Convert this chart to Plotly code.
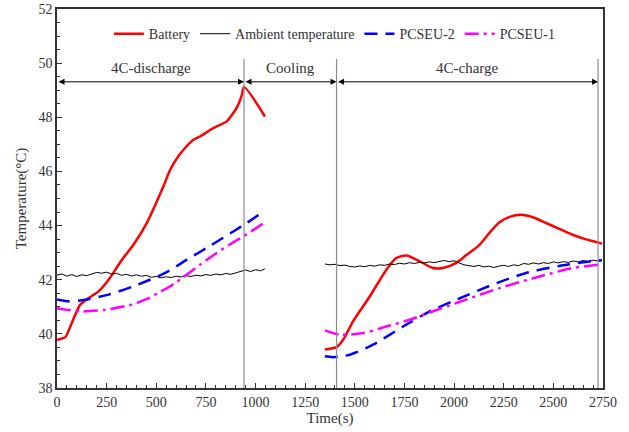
import plotly.graph_objects as go

# ---- Discharge phase (0 - ~1050 s) ----
t_batt_dis = [0, 20, 42, 67, 92, 117, 159, 209, 260, 327, 385, 452, 536, 570, 611,
              653, 687, 720, 787, 855, 888, 910, 930, 942, 1047]
T_batt_dis = [39.78, 39.82, 39.88, 40.27, 40.71, 41.08, 41.32, 41.57, 42.00, 42.74,
              43.29, 44.09, 45.45, 46.06, 46.56, 46.93, 47.17, 47.29, 47.60, 47.85,
              48.16, 48.42, 48.80, 49.12, 48.03]

t_amb_dis = [0, 25, 50, 75, 100, 125, 150, 175, 200, 225, 250, 275, 300, 325, 350,
             375, 400, 425, 450, 475, 500, 525, 550, 575, 600, 625, 650, 675, 700,
             725, 750, 775, 800, 825, 850, 875, 900, 925, 950, 975, 1000, 1025, 1047]
T_amb_dis = [42.17, 42.21, 42.13, 42.19, 42.12, 42.18, 42.15, 42.22, 42.27, 42.24,
             42.28, 42.21, 42.24, 42.16, 42.20, 42.14, 42.18, 42.13, 42.16, 42.09,
             42.12, 42.07, 42.11, 42.08, 42.13, 42.10, 42.15, 42.12, 42.17, 42.14,
             42.19, 42.16, 42.21, 42.18, 42.23, 42.20, 42.26, 42.31, 42.36, 42.30,
             42.37, 42.33, 42.40]

t_p2_dis = [0, 58, 126, 260, 394, 545, 654, 771, 896, 942, 1047]
T_p2_dis = [41.27, 41.20, 41.24, 41.45, 41.78, 42.25, 42.74, 43.25, 43.82, 44.03, 44.55]

t_p1_dis = [0, 60, 126, 243, 377, 450, 520, 590, 637, 720, 804, 870, 938, 1047]
T_p1_dis = [40.95, 40.88, 40.83, 40.89, 41.08, 41.28, 41.55, 41.85, 42.10, 42.55,
            42.99, 43.30, 43.60, 44.12]

# ---- Charge phase (~1350 - 2750 s) ----
t_batt_chg = [1349, 1380, 1408, 1441, 1491, 1575, 1659, 1709, 1760, 1827, 1894, 1944,
              2011, 2060, 2128, 2180, 2229, 2280, 2338, 2400, 2464, 2530, 2597, 2660,
              2723, 2745]
T_batt_chg = [39.42, 39.46, 39.51, 39.78, 40.46, 41.38, 42.37, 42.80, 42.89, 42.68,
              42.43, 42.43, 42.62, 42.90, 43.29, 43.75, 44.12, 44.32, 44.40, 44.30,
              44.09, 43.88, 43.66, 43.50, 43.38, 43.33]

t_amb_chg = [1350, 1375, 1400, 1425, 1450, 1475, 1500, 1525, 1550, 1575, 1600, 1625,
             1650, 1675, 1700, 1725, 1750, 1775, 1800, 1825, 1850, 1875, 1900, 1925,
             1950, 1975, 2000, 2025, 2050, 2075, 2100, 2125, 2150, 2175, 2200, 2225,
             2250, 2275, 2300, 2325, 2350, 2375, 2400, 2425, 2450, 2475, 2500, 2525,
             2550, 2575, 2600, 2625, 2650, 2675, 2700, 2725, 2745]
T_amb_chg = [42.58, 42.55, 42.57, 42.52, 42.54, 42.49, 42.47, 42.51, 42.48, 42.53,
             42.50, 42.55, 42.53, 42.58, 42.56, 42.61, 42.58, 42.63, 42.60, 42.64,
             42.62, 42.66, 42.63, 42.68, 42.71, 42.67, 42.70, 42.62, 42.55, 42.52,
             42.49, 42.53, 42.47, 42.50, 42.45, 42.50, 42.53, 42.49, 42.55, 42.52,
             42.60, 42.57, 42.62, 42.58, 42.63, 42.60, 42.66, 42.62, 42.67, 42.64,
             42.69, 42.66, 42.71, 42.67, 42.72, 42.69, 42.71]

t_p2_chg = [1349, 1391, 1475, 1592, 1743, 1877, 2011, 2195, 2363, 2530, 2723, 2745]
T_p2_chg = [39.17, 39.14, 39.23, 39.60, 40.27, 40.83, 41.26, 41.82, 42.25, 42.51, 42.71, 42.72]

t_p1_chg = [1349, 1424, 1542, 1659, 1776, 1877, 2011, 2229, 2430, 2597, 2723, 2745]
T_p1_chg = [40.13, 39.97, 40.03, 40.27, 40.52, 40.79, 41.14, 41.69, 42.12, 42.43, 42.55, 42.56]

# Phase boundaries and labels
phase_edges = [0, 942, 1408, 2725]
phase_names = ["4C-discharge", "Cooling", "4C-charge"]
arrow_level = 49.31
label_level = 49.82
divider_top = 50.15

x_ticks = [0, 250, 500, 750, 1000, 1250, 1500, 1750, 2000, 2250, 2500, 2750]
y_ticks = [38, 40, 42, 44, 46, 48, 50, 52]

FONT = "Liberation Serif, Times New Roman, serif"
TXT = "#333333"

fig = go.Figure()

def add_series(name, tx, ty, color, width, dash, show, shape):
    fig.add_trace(go.Scatter(
        x=tx, y=ty, mode="lines", name=name, legendgroup=name, showlegend=show,
        line=dict(color=color, width=width, dash=dash, shape=shape,
                  smoothing=0.7 if shape == "spline" else None),
    ))

add_series("Battery", t_batt_dis, T_batt_dis, "#ff0000", 2.5, "solid", True, "spline")
add_series("Ambient temperature", t_amb_dis, T_amb_dis, "#000000", 1, "solid", True, "linear")
add_series("PCSEU-2", t_p2_dis, T_p2_dis, "#0000ff", 2.5, "13px,8px", True, "spline")
add_series("PCSEU-1", t_p1_dis, T_p1_dis, "#ff00ff", 2.5, "14px,5px,3px,5px", True, "spline")
add_series("Battery", t_batt_chg, T_batt_chg, "#ff0000", 2.5, "solid", False, "spline")
add_series("Ambient temperature", t_amb_chg, T_amb_chg, "#000000", 1, "solid", False, "linear")
add_series("PCSEU-2", t_p2_chg, T_p2_chg, "#0000ff", 2.5, "13px,8px", False, "spline")
add_series("PCSEU-1", t_p1_chg, T_p1_chg, "#ff00ff", 2.5, "14px,5px,3px,5px", False, "spline")

# Vertical dividers between phases
for xe in phase_edges[1:]:
    fig.add_shape(type="line", xref="x", yref="y", x0=xe, x1=xe, y0=38, y1=divider_top,
                  line=dict(color="#8c8c8c", width=1.2))

# Double-headed span arrows and phase labels
for i, name in enumerate(phase_names):
    a, b = phase_edges[i], phase_edges[i + 1]
    fig.add_annotation(x=b, y=arrow_level, ax=a, ay=arrow_level, xref="x", yref="y",
                       axref="x", ayref="y", text="", showarrow=True,
                       arrowhead=2, startarrowhead=2, arrowside="end+start",
                       arrowsize=1.2, startarrowsize=1.2, arrowwidth=1,
                       arrowcolor="#000000", standoff=0, startstandoff=0)
    fig.add_annotation(x=(a + b) / 2, y=label_level, xref="x", yref="y", text=name,
                       showarrow=False, font=dict(family=FONT, size=15, color=TXT))

axis_common = dict(
    showline=True, linecolor="#333333", linewidth=1.5, mirror=True,
    ticks="inside", ticklen=5, tickwidth=1, tickcolor="#333333",
    showgrid=False, zeroline=False, automargin=False,
    tickfont=dict(family=FONT, size=14, color=TXT),
)

fig.update_xaxes(range=[0, 2750], tickvals=x_ticks,
                 minor=dict(dtick=50, ticks="inside", ticklen=3, tickcolor="#333333"),
                 title=dict(text="Time(s)", font=dict(family=FONT, size=15, color=TXT), standoff=4),
                 **axis_common)
fig.update_yaxes(range=[38, 52], tickvals=y_ticks,
                 minor=dict(dtick=0.5, ticks="inside", ticklen=3, tickcolor="#333333"),
                 title=dict(text="Temperature(°C)", font=dict(family=FONT, size=15, color=TXT), standoff=8),
                 **axis_common)

fig.update_layout(
    width=629, height=432,
    margin=dict(l=57, r=26, t=9, b=44),
    plot_bgcolor="white", paper_bgcolor="white",
    font=dict(family=FONT, color=TXT),
    legend=dict(orientation="h", x=0.095, y=0.976, xanchor="left", yanchor="top",
                bgcolor="rgba(0,0,0,0)", font=dict(family=FONT, size=14, color=TXT),
                itemwidth=30, tracegroupgap=0),
)

fig.write_html("out.html")
